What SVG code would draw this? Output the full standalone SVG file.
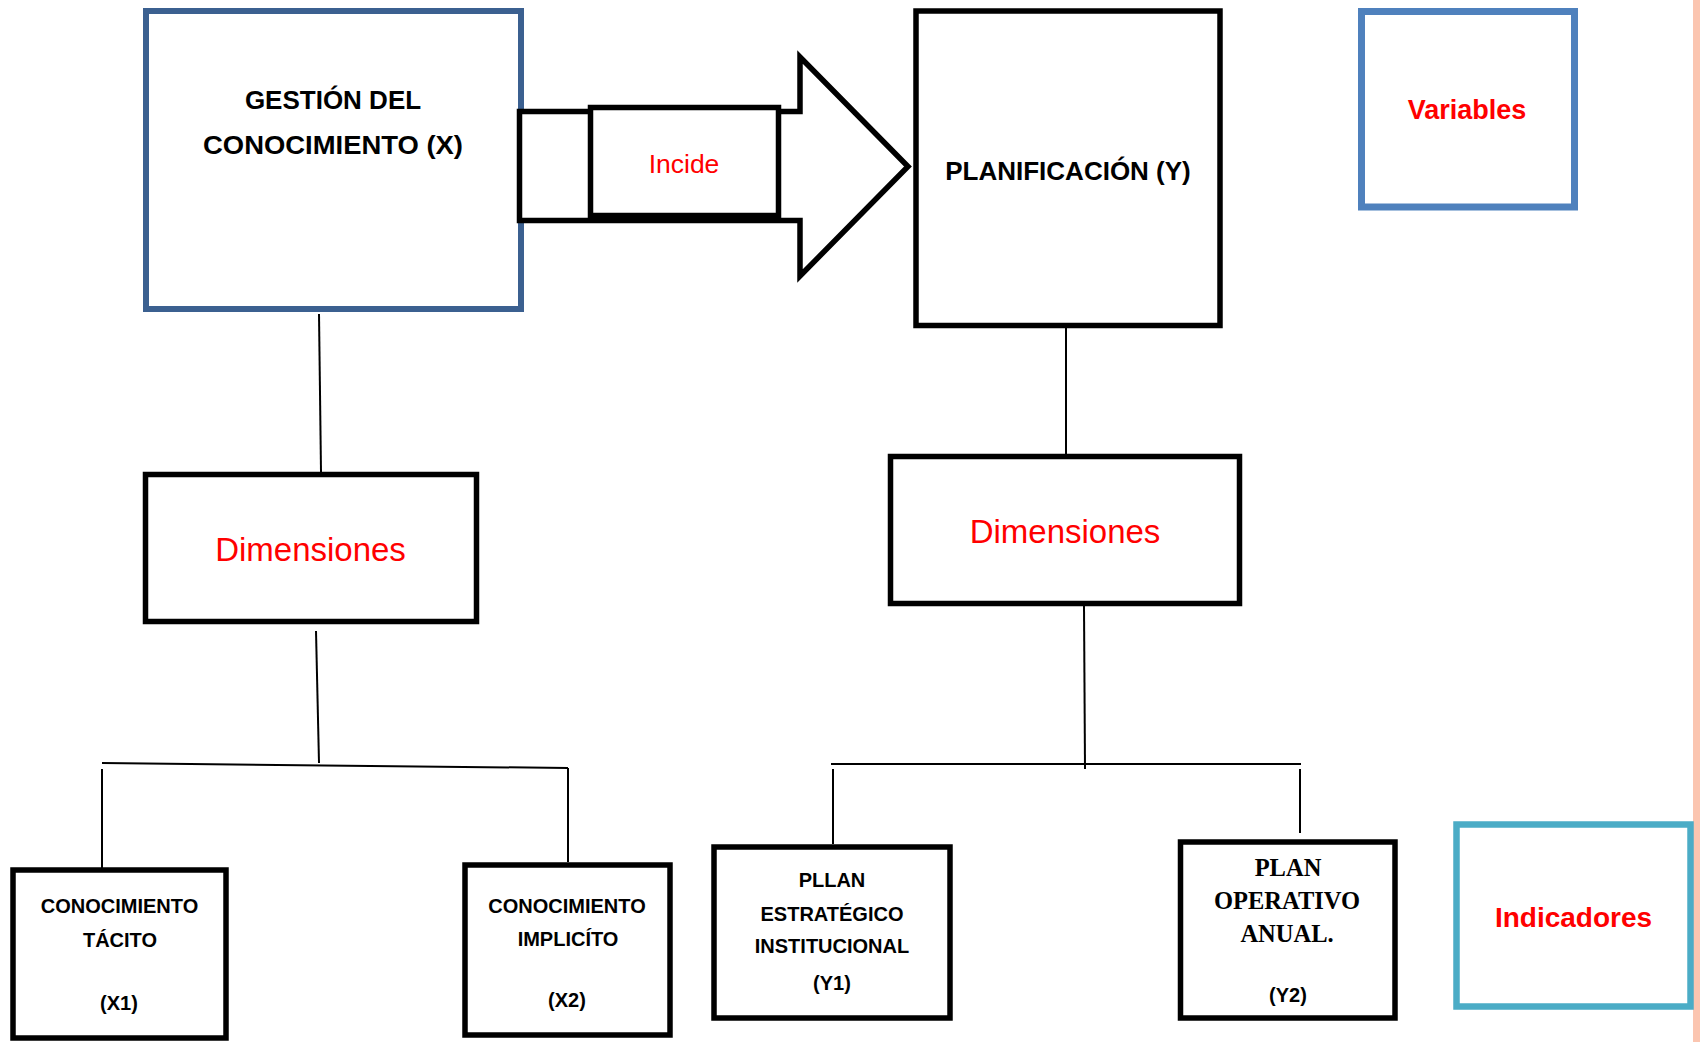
<svg xmlns="http://www.w3.org/2000/svg" width="1700" height="1042" viewBox="0 0 1700 1042">
<style>
.box{fill:#fff;stroke:#000;stroke-width:5.5}
.ln{fill:none;stroke:#000;stroke-width:2}
.sb{font-family:"Liberation Sans",Arial,sans-serif;font-weight:bold;fill:#000;text-anchor:middle}
.red{font-family:"Liberation Sans",Arial,sans-serif;fill:#FF0000;text-anchor:middle}
.serb{font-family:"Liberation Serif","Times New Roman",serif;font-weight:bold;fill:#000;text-anchor:middle}
</style>
<rect x="0" y="0" width="1700" height="1042" fill="#fff"/>
<rect x="1693" y="0" width="7" height="1042" fill="#FBC5B0"/>

<g id="gestion">
<rect x="146" y="11" width="375" height="298" fill="#fff" stroke="#3B6090" stroke-width="6"/>
<text class="sb" x="333" y="109" font-size="26">GESTIÓN DEL</text>
<text class="sb" x="333" y="154" font-size="26" textLength="260" lengthAdjust="spacingAndGlyphs">CONOCIMIENTO (X)</text>
</g>

<g id="planificacion">
<rect x="916" y="11" width="304" height="314.5" class="box"/>
<text class="sb" x="1068" y="180" font-size="26">PLANIFICACIÓN (Y)</text>
</g>

<g id="variables">
<rect x="1361.5" y="11.5" width="213" height="195.5" fill="#fff" stroke="#4F81BD" stroke-width="7"/>
<text class="red" x="1467" y="119" font-size="27" font-weight="bold">Variables</text>
</g>

<g id="dimensiones-x">
<rect x="145.5" y="474.5" width="331" height="147" class="box"/>
<text class="red" x="310.5" y="561" font-size="33">Dimensiones</text>
</g>

<g id="dimensiones-y">
<rect x="890.5" y="456.5" width="349" height="147" class="box"/>
<text class="red" x="1065" y="543" font-size="33">Dimensiones</text>
</g>

<g id="x1">
<rect x="13" y="870" width="213" height="168" class="box" stroke-width="6"/>
<text class="sb" x="119.5" y="913" font-size="20">CONOCIMIENTO</text>
<text class="sb" x="120" y="947" font-size="20">TÁCITO</text>
<text class="sb" x="119" y="1010" font-size="20">(X1)</text>
</g>

<g id="x2">
<rect x="465" y="865" width="205" height="170" class="box" stroke-width="6"/>
<text class="sb" x="567" y="913" font-size="20">CONOCIMIENTO</text>
<text class="sb" x="568" y="946" font-size="20">IMPLICÍTO</text>
<text class="sb" x="567" y="1007" font-size="20">(X2)</text>
</g>

<g id="y1">
<rect x="714" y="847" width="236" height="171" class="box" stroke-width="6"/>
<text class="sb" x="832" y="887" font-size="20">PLLAN</text>
<text class="sb" x="832" y="921" font-size="20">ESTRATÉGICO</text>
<text class="sb" x="832" y="953" font-size="20">INSTITUCIONAL</text>
<text class="sb" x="832" y="990" font-size="20">(Y1)</text>
</g>

<g id="y2">
<rect x="1180.5" y="842" width="214.5" height="176" class="box" stroke-width="6"/>
<text class="serb" x="1288" y="876" font-size="24.5">PLAN</text>
<text class="serb" x="1287" y="909" font-size="24.5">OPERATIVO</text>
<text class="serb" x="1287" y="942" font-size="24.5">ANUAL.</text>
<text class="sb" x="1288" y="1002" font-size="20">(Y2)</text>
</g>

<g id="indicadores">
<rect x="1456.5" y="824.5" width="234" height="182" fill="#fff" stroke="#4BACC6" stroke-width="6.5"/>
<text class="red" x="1573.5" y="927" font-size="28" font-weight="bold">Indicadores</text>
</g>

<g id="connectors">
<line class="ln" x1="319" y1="314" x2="321" y2="472"/>
<line class="ln" x1="316" y1="631" x2="319" y2="763"/>
<line class="ln" x1="102" y1="763" x2="568" y2="768"/>
<line class="ln" x1="102" y1="769" x2="102" y2="868"/>
<line class="ln" x1="568" y1="768" x2="568" y2="862"/>
<line class="ln" x1="1066" y1="323" x2="1066" y2="454"/>
<line class="ln" x1="1084" y1="606" x2="1085" y2="769"/>
<line class="ln" x1="831" y1="764" x2="1301" y2="764"/>
<line class="ln" x1="833" y1="769" x2="833" y2="844"/>
<line class="ln" x1="1300" y1="769" x2="1300" y2="833"/>
<g id="arrow-incide">
<polygon points="519.5,111.5 800,111.5 800,57 908,166.5 800,276 800,220.5 519.5,220.5" fill="#fff" stroke="#000" stroke-width="5.5" stroke-linejoin="miter"/>
<rect x="590.5" y="107.5" width="188" height="108" class="box"/>
<text class="red" x="684" y="173" font-size="26.5">Incide</text>
</g>
</g>
</svg>
